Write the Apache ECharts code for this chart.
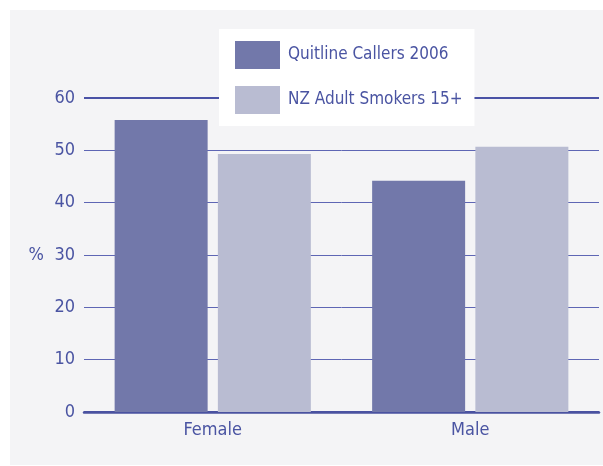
<!DOCTYPE html>
<html>
<head>
<meta charset="utf-8">
<script src="https://cdn.jsdelivr.net/npm/echarts@6/dist/echarts.min.js"></script>
<style>
  html, body { margin: 0; padding: 0; background: #fff; }
  #frame { position: absolute; left: 10px; top: 10px; width: 593px; height: 455px; background: #f4f4f6; }
  #chart { position: absolute; left: 0; top: 0; width: 603px; height: 466px; }
</style>
</head>
<body>
<div id="frame"></div>
<div id="chart"></div>
<script>
  const categories = ['Female', 'Male'];
  const quitlineCallers = [55.8, 44.2];
  const nzAdultSmokers = [49.3, 50.7];
  const seriesNames = ['Quitline Callers 2006', 'NZ Adult Smokers 15+'];

  const font = "'Liberation Sans Narrow', 'DejaVu Sans Condensed', sans-serif";
  const textColor = '#4a54a2';

  const chart = echarts.init(document.getElementById('chart'));
  const option = {
    animation: false,
    textStyle: { fontFamily: font },
    grid: { left: 84, right: 4, top: 98, bottom: 54 },
    legend: {
      orient: 'vertical',
      left: 219,
      top: 29,
      backgroundColor: '#ffffff',
      padding: [12, 12, 12, 16],
      itemWidth: 45,
      itemHeight: 28,
      itemGap: 17,
      icon: 'rect',
      z: 10,
      textStyle: { color: textColor, fontSize: 17, fontFamily: font, padding: [0, 0, 0, 3] },
      data: seriesNames
    },
    xAxis: {
      type: 'category',
      data: categories,
      axisTick: { show: false },
      axisLine: { lineStyle: { color: '#4a52a0', width: 2.5 } },
      axisLabel: { color: textColor, fontSize: 18, margin: 9, fontFamily: font }
    },
    yAxis: [{
      type: 'value',
      min: 0,
      max: 60,
      interval: 10,
      name: '%',
      nameLocation: 'middle',
      nameRotate: 0,
      nameGap: 40,
      nameTextStyle: { color: textColor, fontSize: 18, fontFamily: font },
      axisLine: { show: false },
      axisTick: { show: false },
      axisLabel: { color: textColor, fontSize: 18, margin: 9, fontFamily: font },
      splitLine: { lineStyle: { color: '#5e66b4', width: 1 } }
    }, {
      type: 'value',
      min: 0,
      max: 60,
      interval: 60,
      position: 'left',
      axisLine: { show: false },
      axisTick: { show: false },
      axisLabel: { show: false },
      splitLine: { lineStyle: { color: '#4a52a6', width: 2 } }
    }],
    series: [{
      name: seriesNames[0],
      type: 'bar',
      data: quitlineCallers,
      barWidth: 93,
      barGap: '11%',
      itemStyle: { color: '#7278aa' }
    }, {
      name: seriesNames[1],
      type: 'bar',
      data: nzAdultSmokers,
      barWidth: 93,
      itemStyle: { color: '#b9bcd2' }
    }]
  };
  chart.setOption(option);
</script>
</body>
</html>
